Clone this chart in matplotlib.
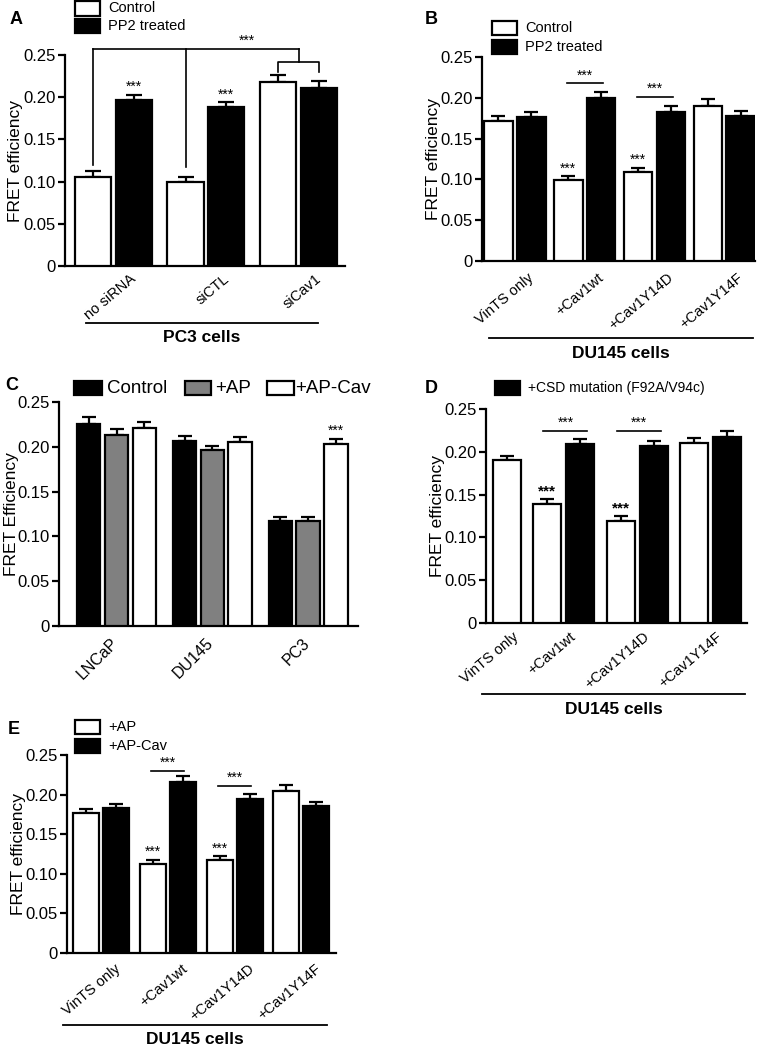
import numpy as np
import matplotlib
matplotlib.use("Agg")
import matplotlib.pyplot as plt
from matplotlib.patches import Rectangle
from matplotlib.lines import Line2D
from matplotlib.transforms import ScaledTranslation

plt.rcParams['font.family'] = ['Liberation Sans', 'DejaVu Sans']

W, H = 762, 1047

# ---- panel A: PC3 cells, siRNA ----
a_groups = ["no siRNA", "siCTL", "siCav1"]
a_ctrl = [0.105, 0.100, 0.218]
a_ctrl_err = [0.007, 0.006, 0.0087]
a_pp2 = [0.197, 0.188, 0.2105]
a_pp2_err = [0.006, 0.006, 0.0087]

# ---- panel B: DU145 cells, PP2 ----
b_groups = ["VinTS only", "+Cav1wt", "+Cav1Y14D", "+Cav1Y14F"]
b_ctrl = [0.171, 0.099, 0.109, 0.190]
b_ctrl_err = [0.007, 0.005, 0.005, 0.008]
b_pp2 = [0.176, 0.200, 0.182, 0.178]
b_pp2_err = [0.006, 0.0075, 0.008, 0.006]

# ---- panel C: cell lines ----
c_groups = ["LNCaP", "DU145", "PC3"]
c_control = [0.225, 0.207, 0.117]
c_control_err = [0.0085, 0.0045, 0.0048]
c_ap = [0.213, 0.1965, 0.117]
c_ap_err = [0.0074, 0.0048, 0.005]
c_apcav = [0.221, 0.205, 0.203]
c_apcav_err = [0.0067, 0.0056, 0.0056]

# ---- panel D: CSD mutation ----
d_groups = ["VinTS only", "+Cav1wt", "+Cav1Y14D", "+Cav1Y14F"]
d_ctrl = [0.190, 0.139, 0.119, 0.210]
d_ctrl_err = [0.005, 0.006, 0.006, 0.006]
d_csd = [0.209, 0.207, 0.217]          # no CSD bar for "VinTS only"
d_csd_err = [0.006, 0.006, 0.007]

# ---- panel E: AP vs AP-Cav ----
e_groups = ["VinTS only", "+Cav1wt", "+Cav1Y14D", "+Cav1Y14F"]
e_ap = [0.177, 0.113, 0.118, 0.205]
e_ap_err = [0.0042, 0.005, 0.0042, 0.007]
e_apcav = [0.1835, 0.216, 0.194, 0.1856]
e_apcav_err = [0.0046, 0.007, 0.0067, 0.0054]

yticks = [0, 0.05, 0.10, 0.15, 0.20, 0.25]
ytick_labels = ["0", "0.05", "0.10", "0.15", "0.20", "0.25"]

fig = plt.figure(figsize=(W / 100, H / 100), dpi=100)


def px_axes(x0, y0, x1, y1):
    ax = fig.add_axes([x0 / W, 1 - y1 / H, (x1 - x0) / W, (y1 - y0) / H])
    ax._px = (x0, x1)
    return ax


def fx(x):
    return x / W


def fy(y):
    return 1 - y / H


def style(ax, ylabel, xlim, label_x, fs=12.5):
    ax.set_ylim(0, 0.25)
    ax.set_xlim(*xlim)
    ax.set_yticks(yticks)
    ax.set_yticklabels(ytick_labels, fontsize=12)
    ax.set_ylabel(ylabel, fontsize=fs)
    x0, x1 = ax._px
    ax.yaxis.set_label_coords((label_x - x0) / (x1 - x0), 0.5)
    ax.set_xticks([])
    for s in ["top", "right"]:
        ax.spines[s].set_visible(False)
    for s in ["left", "bottom"]:
        ax.spines[s].set_linewidth(1.6)
    ax.tick_params(axis="y", width=1.6, length=5, pad=2)
    ax.patch.set_alpha(0)


def bars(ax, x, vals, errs, color, width, capsize):
    ax.bar(x, vals, width, color=color, edgecolor="black", linewidth=1.6, zorder=3)
    ax.errorbar(x, vals, yerr=[np.zeros(len(errs)), errs], fmt="none",
                ecolor="black", elinewidth=1.6, capsize=capsize, capthick=1.6, zorder=2)


def xlabels(ax, x, labels, dx, dy, fs=10.5, rot=40):
    off = ScaledTranslation(dx / 100, -dy / 100, fig.dpi_scale_trans)
    for xi, lab in zip(x, labels):
        ax.text(xi, 0, lab, transform=ax.get_xaxis_transform() + off, rotation=rot,
                ha="right", va="center", rotation_mode="anchor", fontsize=fs)


def group_line(x0, x1, y, ytext, text):
    fig.add_artist(Line2D([fx(x0), fx(x1)], [fy(y), fy(y)], color="black", lw=1.3))
    fig.text(fx((x0 + x1) / 2), fy(ytext), text, ha="center", va="center",
             fontsize=12.5, fontweight="bold")


def legend_item(x, y, color, text, fs=10.5, w=25, h=14, gap=8):
    fig.add_artist(Rectangle((fx(x), fy(y + h / 2)), w / W, h / H, transform=fig.transFigure,
                             facecolor=color, edgecolor="black", linewidth=1.6))
    fig.text(fx(x + w + gap), fy(y), text, ha="left", va="center", fontsize=fs)


def stars(ax, x, y, fs=10, bold=False):
    ax.text(x, y, "***", ha="center", va="bottom", fontsize=fs,
            fontweight="bold" if bold else "normal", clip_on=False)


def sig_line(ax, x0, x1, y):
    ax.plot([x0, x1], [y, y], color="black", lw=1.2, clip_on=False)
    stars(ax, (x0 + x1) / 2, y + 0.001)


# ================= A =================
axA = px_axes(65, 55, 345, 266)
xa = np.arange(len(a_groups))
off_a, w_a = 0.22, 0.39
bars(axA, xa - off_a, a_ctrl, a_ctrl_err, "white", w_a, 6)
bars(axA, xa + off_a, a_pp2, a_pp2_err, "black", w_a, 6)
style(axA, "FRET efficiency", (-0.52, 2.5), 23.5)
xlabels(axA, xa, a_groups, 21, 11)
for i in [0, 1]:
    stars(axA, xa[i] + off_a, a_pp2[i] + a_pp2_err[i] + 0.001)
# bracket comparing controls with siCav1
yb = 0.257
kw = dict(color="black", lw=1.2, clip_on=False)
axA.plot([xa[0] - off_a, xa[2]], [yb, yb], **kw)
axA.plot([xa[0] - off_a, xa[0] - off_a], [yb, 0.120], **kw)
axA.plot([xa[1] - off_a, xa[1] - off_a], [yb, 0.117], **kw)
axA.plot([xa[2], xa[2]], [yb, 0.2417], **kw)
axA.plot([xa[2] - off_a, xa[2] - off_a, xa[2] + off_a, xa[2] + off_a],
         [0.230, 0.2417, 0.2417, 0.230], **kw)
stars(axA, 1.44, yb + 0.001)
group_line(86, 318, 323, 338, "PC3 cells")
fig.text(fx(10), fy(20), "A", fontsize=13, fontweight="bold", va="center")
legend_item(75, 8.5, "white", "Control")
legend_item(75, 26, "black", "PP2 treated")

# ================= B =================
axB = px_axes(482, 57, 755, 261)
xb = np.arange(len(b_groups))
off_b, w_b = 0.235, 0.41
bars(axB, xb - off_b, b_ctrl, b_ctrl_err, "white", w_b, 5)
bars(axB, xb + off_b, b_pp2, b_pp2_err, "black", w_b, 5)
style(axB, "FRET efficiency", (-0.47, 3.44), 441)
xlabels(axB, xb, b_groups, 17, 15)
for i in [1, 2]:
    stars(axB, xb[i] - off_b, b_ctrl[i] + b_ctrl_err[i] + 0.001)
sig_line(axB, xb[1] - 0.25, xb[1] + 0.27, 0.218)
sig_line(axB, xb[2] - 0.25, xb[2] + 0.27, 0.201)
group_line(489, 753, 338, 353, "DU145 cells")
fig.text(fx(425), fy(19), "B", fontsize=13, fontweight="bold", va="center")
legend_item(492, 28, "white", "Control")
legend_item(492, 47, "black", "PP2 treated")

# ================= C =================
axC = px_axes(59, 402, 358, 626)
xc = np.arange(len(c_groups))
off_c, w_c = 0.29, 0.245
bars(axC, xc - off_c, c_control, c_control_err, "black", w_c, 5)
bars(axC, xc, c_ap, c_ap_err, "#808080", w_c, 5)
bars(axC, xc + off_c, c_apcav, c_apcav_err, "white", w_c, 5)
style(axC, "FRET Efficiency", (-0.60, 2.52), 18.5)
xlabels(axC, xc, c_groups, -1, 15, fs=11.5, rot=45)
stars(axC, xc[2] + off_c, c_apcav[2] + c_apcav_err[2] + 0.001)
fig.text(fx(5), fy(386), "C", fontsize=13, fontweight="bold", va="center")
legend_item(74, 388, "black", "Control", fs=13.5, w=28, h=14, gap=5)
legend_item(185, 388, "#808080", "+AP", fs=13.5, w=26, h=14, gap=4)
legend_item(267, 388, "white", "+AP-Cav", fs=13.5, w=27, h=14, gap=1)

# ================= D =================
axD = px_axes(486, 409, 747, 623)
d_black_x = np.arange(1, len(d_groups))
d_white_x = np.r_[0, d_black_x - 0.45]
d_centers = np.r_[0, d_black_x - 0.225]
w_d = 0.38
bars(axD, d_white_x, d_ctrl, d_ctrl_err, "white", w_d, 5)
bars(axD, d_black_x, d_csd, d_csd_err, "black", w_d, 5)
style(axD, "FRET efficiency", (-0.28, 3.27), 445)
xlabels(axD, d_centers, d_groups, 10, 12)
for i in [1, 2]:
    stars(axD, d_white_x[i], d_ctrl[i] + d_ctrl_err[i] + 0.001, fs=11, bold=True)
sig_line(axD, d_white_x[1] - 0.05, d_black_x[0] + 0.1, 0.2243)
sig_line(axD, d_white_x[2] - 0.05, d_black_x[1] + 0.1, 0.2243)
group_line(482, 745, 694, 709, "DU145 cells")
fig.text(fx(425), fy(388), "D", fontsize=13, fontweight="bold", va="center")
legend_item(495, 388, "black", "+CSD mutation (F92A/V94c)", fs=10)

# ================= E =================
axE = px_axes(67, 755, 336, 953)
xe = np.arange(len(e_groups))
off_e, w_e = 0.225, 0.39
bars(axE, xe - off_e, e_ap, e_ap_err, "white", w_e, 5)
bars(axE, xe + off_e, e_apcav, e_apcav_err, "black", w_e, 5)
style(axE, "FRET efficiency", (-0.51, 3.52), 26)
xlabels(axE, xe, e_groups, 18, 14)
for i in [1, 2]:
    stars(axE, xe[i] - off_e, e_ap[i] + e_ap_err[i] + 0.001)
sig_line(axE, xe[1] - 0.25, xe[1] + 0.25, 0.2298)
sig_line(axE, xe[2] - 0.25, xe[2] + 0.25, 0.2109)
group_line(63, 327, 1025, 1039, "DU145 cells")
fig.text(fx(8), fy(730), "E", fontsize=13, fontweight="bold", va="center")
legend_item(75, 727, "white", "+AP")
legend_item(75, 746, "black", "+AP-Cav")

fig.savefig("out.png", dpi=100)
